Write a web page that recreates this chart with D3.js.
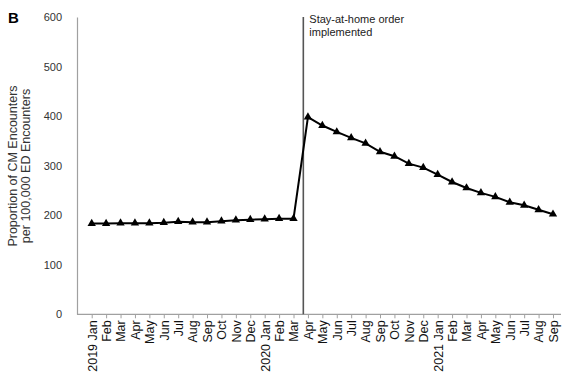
<!DOCTYPE html>
<html><head><meta charset="utf-8">
<script src="https://cdn.jsdelivr.net/npm/d3@7"></script>
<style>
html,body{margin:0;padding:0;background:#fff;}
svg{display:block;font-family:"Liberation Sans",Arial,sans-serif;}
</style></head>
<body><div id="chart"></div>
<script>
const months = ["Jan","Feb","Mar","Apr","May","Jun","Jul","Aug","Sep","Oct","Nov","Dec"];
const categories = [];
const years = [2019, 2020, 2021];
years.forEach(y => months.forEach((m, i) => {
  if (y === 2021 && i > 8) return;
  categories.push(i === 0 ? y + " " + m : m);
}));
const values = [183,183,184,184,184,185,187,186,186,188,190,191,192,193,193,
                398,381,368,356,345,328,319,304,296,282,267,255,245,237,226,220,211,202];
const yTicks = [0,100,200,300,400,500,600];
const eventIndex = 14; // stay-at-home order between Mar and Apr 2020
const eventLabel = ["Stay-at-home order", "implemented"];
const yTitle = ["Proportion of CM Encounters", "per 100,000 ED Encounters"];

const W = 563, H = 378;
const svg = d3.select("#chart").append("svg").attr("width", W).attr("height", H);

const x = d3.scalePoint().domain(d3.range(categories.length)).range([91.7, 553]);
const y = d3.scaleLinear().domain([0, 600]).range([314.3, 17]);

// y axis
const yAxis = svg.append("g").attr("transform", "translate(77,0)")
  .call(d3.axisLeft(y).tickValues(yTicks).tickSize(0).tickPadding(15));
yAxis.select(".domain").attr("stroke", "#a0a0a0").attr("stroke-width", 1.2);
yAxis.selectAll("text").attr("font-size", 11).attr("fill", "#333")
  .attr("font-family", "Liberation Sans, Arial, sans-serif");

// x axis
const xAxis = svg.append("g").attr("transform", "translate(0,314.3)")
  .call(d3.axisBottom(x).tickSize(4).tickFormat(i => categories[i]));
xAxis.select(".domain").remove();
svg.append("line").attr("x1", 77).attr("x2", 561).attr("y1", 314.3).attr("y2", 314.3)
  .attr("stroke", "#a0a0a0").attr("stroke-width", 1.2);
xAxis.selectAll(".tick line").attr("stroke", "#a0a0a0");
xAxis.selectAll("text")
  .attr("font-size", 12.5).attr("fill", "#111")
  .attr("font-family", "Liberation Sans, Arial, sans-serif")
  .attr("transform", "rotate(-90)")
  .attr("text-anchor", "end")
  .attr("x", -6).attr("y", 0).attr("dy", "0.35em");

// event line
const ex = x(eventIndex) + 0.68 * x.step();
svg.append("line").attr("x1", ex).attr("x2", ex).attr("y1", y(600)).attr("y2", y(0))
  .attr("stroke", "#555").attr("stroke-width", 1.6);
svg.append("text").attr("x", ex + 6).attr("y", 23).attr("font-size", 11).attr("fill", "#222")
  .selectAll("tspan").data(eventLabel).join("tspan")
  .attr("x", ex + 6).attr("dy", (d, i) => i ? 12.5 : 0).text(d => d);

// line
const line = d3.line().x((d, i) => x(i)).y(d => y(d));
svg.append("path").datum(values).attr("d", line)
  .attr("fill", "none").attr("stroke", "#000").attr("stroke-width", 2);
svg.append("g").selectAll("path").data(values).join("path")
  .attr("transform", (d, i) => `translate(${x(i)},${y(d)})`)
  .attr("d", d3.symbol(d3.symbolTriangle, 30))
  .attr("fill", "#000");

// y title
svg.append("text").attr("transform", "translate(17,166) rotate(-90)")
  .attr("text-anchor", "middle").attr("font-size", 12.5).attr("fill", "#333")
  .selectAll("tspan").data(yTitle).join("tspan")
  .attr("x", 0).attr("dy", (d, i) => i ? 12.5 : 0).text(d => d);

// panel letter
svg.append("text").attr("x", 8).attr("y", 23).attr("font-size", 15).attr("font-weight", "bold")
  .attr("fill", "#000").text("B");
</script></body></html>
